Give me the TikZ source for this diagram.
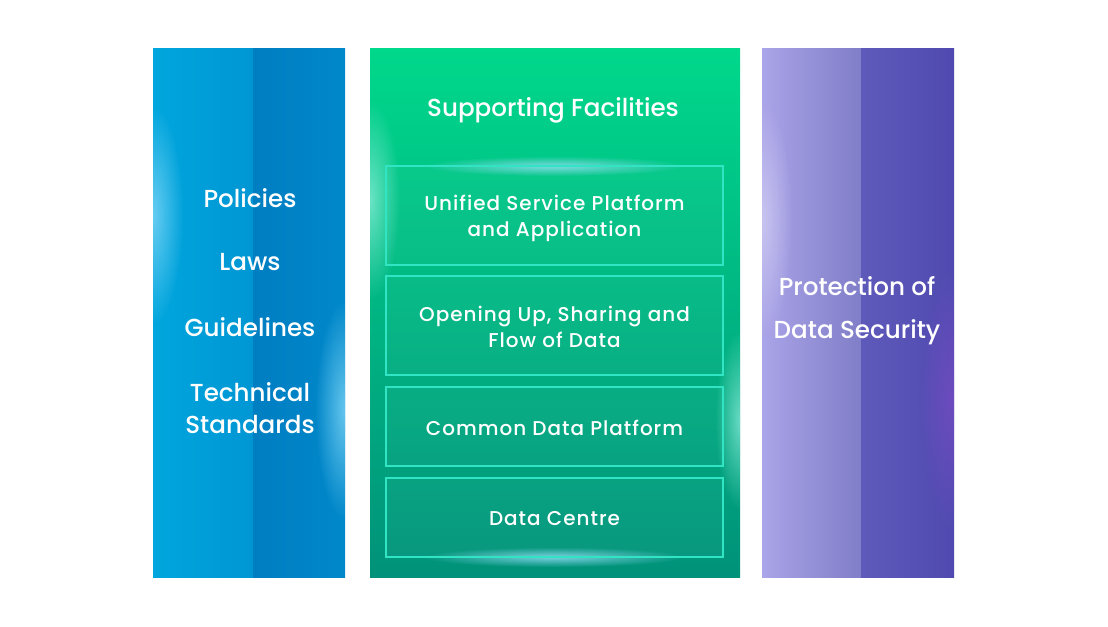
\documentclass[tikz,border=0pt]{standalone}
\usepackage{fontspec}
\setmainfont{Poppins Medium}
\newfontfamily\itemfont{Poppins Medium}[LetterSpace=5]
\usetikzlibrary{positioning,fadings}
\definecolor{lawA}{RGB}{0,166,221}
\definecolor{lawB}{RGB}{0,150,212}
\definecolor{lawC}{RGB}{0,126,194}
\definecolor{lawD}{RGB}{0,136,202}
\definecolor{facTop}{RGB}{0,216,139}
\definecolor{facBot}{RGB}{0,146,122}
\definecolor{facLine}{RGB}{48,228,196}
\definecolor{secA}{RGB}{170,164,232}
\definecolor{secB}{RGB}{128,126,200}
\definecolor{secC}{RGB}{94,90,186}
\definecolor{secD}{RGB}{80,74,176}
\tikzfading[name=softglow, inner color=transparent!0, outer color=transparent!100]
\tikzset{
  lbl/.style={text=white, align=center, inner sep=0pt,
    font=\fontsize{17.5}{22.8}\selectfont},
  title/.style={lbl, font=\fontsize{17.5}{22}\selectfont},
  layer/.style={draw=facLine, line width=1.4pt, fill=white, fill opacity=0.03,
    text opacity=1, minimum width=337*0.025cm, inner sep=0pt},
  item/.style={text=white, align=center,
    font=\itemfont\fontsize{14.2}{18.5}\selectfont},
  glow/.style={path fading=softglow, fit fading=true}
}

\begin{document}
\begin{tikzpicture}[x=0.025cm, y=-0.025cm]
\useasboundingbox (0,0) rectangle (1108,626);

% columns
\shade[left color=lawA, right color=lawB] (153,48) rectangle (253,577);
\shade[left color=lawC, right color=lawD] (253,48) rectangle (345,577);
\shade[top color=facTop, bottom color=facBot] (370,48) rectangle (740,577);
\shade[left color=secA, right color=secB] (762,48) rectangle (861,577);
\shade[left color=secC, right color=secD] (861,48) rectangle (954,577);

% glows
\begin{scope}
\clip (153,48) rectangle (345,577);
\fill[cyan!50!white, glow, opacity=0.8] (153,215) ellipse (30 and 110);
\fill[cyan!50!white, glow, opacity=0.8] (345,410) ellipse (30 and 110);
\end{scope}
\begin{scope}
\clip (370,48) rectangle (740,577);
\fill[facLine!50!white, glow, opacity=0.7] (370,200) ellipse (30 and 100);
\fill[facLine!50!white, glow, opacity=0.7] (740,420) ellipse (25 and 90);
\fill[cyan!40!white, glow, opacity=0.8] (554,166) ellipse (130 and 10);
\fill[cyan!40!white, glow, opacity=0.8] (554,557) ellipse (130 and 10);
\end{scope}
\begin{scope}
\clip (762,48) rectangle (954,577);
\fill[secA!50!white, glow, opacity=0.7] (762,220) ellipse (30 and 120);
\fill[violet!60!blue!70!white, glow, opacity=0.6] (954,400) ellipse (35 and 130);
\end{scope}

% left column
\node[lbl] (pol) at (250,198) {Policies};
\node[lbl] (law) at (250,262) {Laws};
\node[lbl] (gui) at (250,327) {Guidelines};
\node[lbl] (std) at (250,408) {Technical\\Standards};

% middle column
\node[title] (fac) at (553,110) {Supporting Facilities};
\node[layer, minimum height=99*0.025cm] (usp) at (554.5,215.5) {};
\node[layer, minimum height=99*0.025cm] (osf) at (554.5,325.5) {};
\node[layer, minimum height=79*0.025cm] (cdp) at (554.5,426.5) {};
\node[layer, minimum height=79*0.025cm] (dc)  at (554.5,517.5) {};
\node[item] at ([yshift=-2]usp) {Unified Service Platform\\and Application};
\node[item] at ([yshift=-1]osf) {Opening Up, Sharing and\\Flow of Data};
\node[item] at ([yshift=-1]cdp) {Common Data Platform};
\node[item] at ([yshift=-1]dc)  {Data Centre};

% right column
\node[lbl, font=\fontsize{17.5}{30.6}\selectfont] (sec) at (857,310.5)
  {Protection of\\Data Security};

\end{tikzpicture}
\end{document}
